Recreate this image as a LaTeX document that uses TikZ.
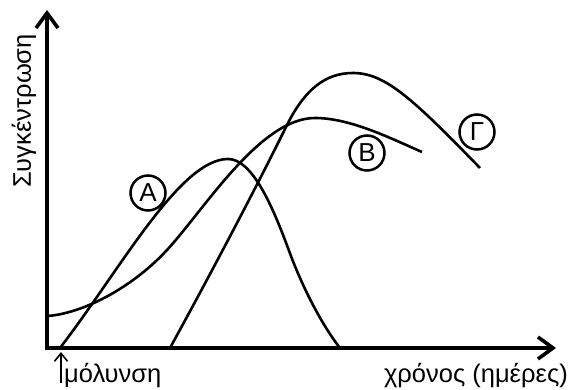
\documentclass[tikz,border=0pt]{standalone}
\usepackage{fontspec}
\setmainfont{Liberation Sans}
\usetikzlibrary{arrows.meta}
\tikzset{
  axis/.style={line width=3.6pt, line join=miter, {Straight Barb[length=15pt,width=22pt,line width=3.6pt]}-{Straight Barb[length=15pt,width=22pt,line width=3.6pt]}},
  curve/.style={line width=2.6pt},
  lbl/.style={font=\fontsize{25.5}{30}\selectfont, inner sep=0pt},
  tag/.style={draw, circle, line width=2.5pt, minimum size=35pt, inner sep=0pt, font=\fontsize{26}{30}\selectfont},
  pointer/.style={line width=1.6pt, -{Straight Barb[length=8pt,width=13pt,line width=1.6pt]}}
}
\begin{document}
\begin{tikzpicture}[x=1pt,y=-1pt]
\useasboundingbox (0,0) rectangle (571,390);
\coordinate (ytop) at (47,10);
\coordinate (O) at (47,348);
\coordinate (xend) at (556,348);
\draw[axis] (ytop) -- (O) -- (xend);
% curve A
\draw[curve] (60,348) .. controls (120,270) and (180,159) .. (228,159)
  .. controls (252,159) and (272,205) .. (288,248)
  .. controls (302,287) and (322,325) .. (340,348);
% curve B
\draw[curve] (47,316) .. controls (80,314) and (130,290) .. (167,250)
  .. controls (204,210) and (260,118) .. (315,118)
  .. controls (350,118) and (390,138) .. (422,152);
% curve Gamma
\draw[curve] (170,348) .. controls (210,275) and (255,190) .. (288,123)
  .. controls (305,90) and (325,73) .. (353,73)
  .. controls (385,73) and (412,98) .. (480,168);
% tags
\node[tag] (A) at (148,193) {A};
\node[tag] (B) at (367,153) {B};
\node[tag] (G) at (477,132) {Γ};
% labels
\node[lbl, rotate=90] (ylab) at (24,111) {Συγκέντρωση};
\node[lbl, anchor=base east] (xlab) at (568,383) {χρόνος (ημέρες)};
\node[lbl, anchor=base west] (mol) at (64,383) {μόλυνση};
\coordinate (m0) at (61,383);
\coordinate (m1) at (61,352);
\draw[pointer] (m0) -- (m1);
\end{tikzpicture}
\end{document}
